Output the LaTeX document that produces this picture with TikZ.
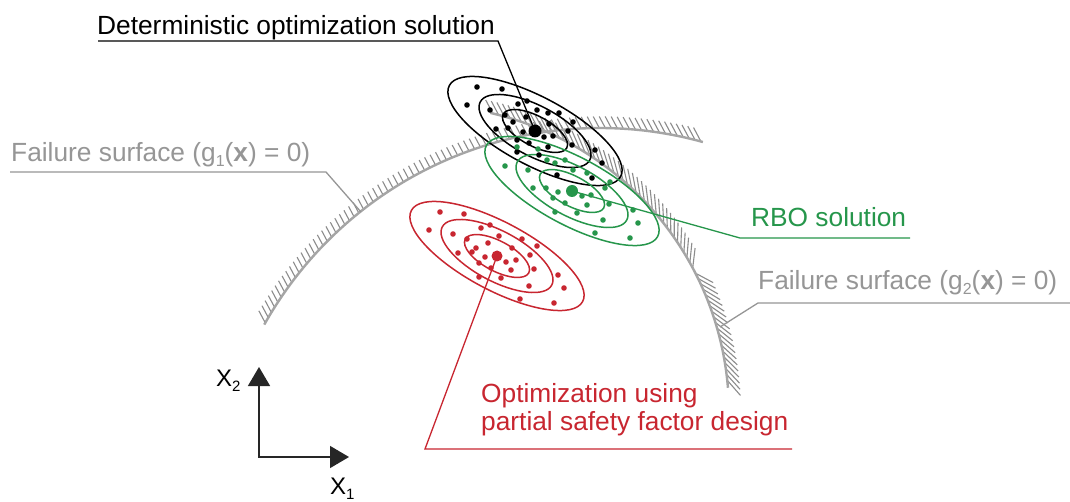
\documentclass[tikz,border=0pt]{standalone}
\usepackage{fontspec}
\setmainfont{Liberation Sans}
\usetikzlibrary{arrows.meta}
\definecolor{rbogreen}{RGB}{38,150,75}
\definecolor{psfred}{RGB}{200,38,48}
\definecolor{surfgray}{RGB}{165,165,165}
\definecolor{hatchgray}{RGB}{140,140,140}
\definecolor{labgray}{RGB}{150,150,150}
\newcommand\subsc[1]{\raisebox{-5pt}{\fontsize{16}{16}\selectfont #1}}
\newcommand\axsub[1]{\raisebox{-5pt}{\fontsize{15}{15}\selectfont #1}}
\begin{document}
\begin{tikzpicture}[x=1pt,y=-1pt,
 lab/.style={font=\fontsize{26.3}{30}\selectfont, anchor=base west, inner sep=0pt},
 axlab/.style={font=\fontsize{24}{28}\selectfont, anchor=base west, inner sep=0pt},
 surf/.style={draw=surfgray, line width=2.4pt},
 hatch/.style={draw=hatchgray, line width=1.1pt},
 ell/.style={line width=1.5pt},
 bigdot/.style={circle, inner sep=0pt, minimum size=13pt},
 leader/.style={line width=1.3pt},
 axisline/.style={line width=1.4pt, draw=black!85, {Triangle[length=19pt,width=22pt]}-{Triangle[length=19pt,width=22pt]}}
]
\useasboundingbox (0,0) rectangle (1070,502);
\fill[white] (0,0) rectangle (1070,502);

% ---------- failure surfaces ----------
\foreach \ang in {209.6,210.5,...,285.2}{
  \pgfmathsetmacro\hr{mod(-118-(\ang)+720,360)-180}
  \pgfmathsetmacro\hr{abs(\hr)>90 ? (\hr>0 ? \hr-180 : \hr+180) : \hr}
  \pgfmathsetmacro\hr{max(-55,min(55,\hr))}
  \pgfmathsetmacro\hl{11.5/cos(\hr)}
  \draw[hatch] ({600+385*cos(\ang)},{513+385*sin(\ang)}) -- ++({\ang+\hr}:\hl);
}
\foreach \ang in {-76.5,-75.4,...,-5}{
  \pgfmathsetmacro\hr{mod(-118-(\ang)+720,360)-180}
  \pgfmathsetmacro\hr{abs(\hr)>90 ? (\hr>0 ? \hr-180 : \hr+180) : \hr}
  \pgfmathsetmacro\hr{max(-55,min(55,\hr))}
  \pgfmathsetmacro\hl{11.5/cos(\hr)}
  \draw[hatch] ({421+308*cos(\ang)},{413+308*sin(\ang)}) -- ++({\ang+\hr}:\hl);
}
\draw[surf] plot[domain=209.3:285.5, samples=90] ({600+385*cos(\x)},{513+385*sin(\x)});
\draw[surf] plot[domain=-77:-4.7, samples=80] ({421+308*cos(\x)},{413+308*sin(\x)});

% ---------- clusters ----------
\foreach \cx/\cy/\col in {535/131/black, 572/191/rbogreen, 497/256/psfred}{
  \draw[ell, \col, rotate around={-28:(\cx,\cy)}] (\cx,\cy) ellipse[x radius=97pt, y radius=34pt];
  \draw[ell, \col, rotate around={-28:(\cx,\cy)}] (\cx,\cy) ellipse[x radius=62pt, y radius=25pt];
  \draw[ell, \col, rotate around={-28:(\cx,\cy)}] (\cx,\cy) ellipse[x radius=36pt, y radius=15pt];
}
\foreach \p in {(477,87),(502,89),(467,105),(490,110),(518,104),(527,101),(537,110),(505,115),(513,122),(526,117),(548,113),(559,113),(573,122),(496,129),(508,128),(523,132),(517,140),(529,143),(544,137),(553,136),(549,124),(568,131),(572,145),(595,150),(602,163),(539,155),(557,175),(592,178),(517,152),(548,147)}
  \fill[black] \p circle[radius=2.8pt];
\foreach \p in {(505,166),(517,147),(528,170),(533,188),(538,149),(547,160),(555,163),(565,160),(573,170),(546,188),(553,198),(558,192),(565,203),(577,213),(582,196),(587,205),(591,195),(605,188),(610,182),(609,204),(603,220),(555,212),(595,233),(630,238),(633,210),(638,223),(587,173)}
  \fill[rbogreen] \p circle[radius=2.8pt];
\foreach \p in {(440,212),(464,214),(429,230),(453,234),(481,228),(490,225),(499,236),(467,239),(488,243),(476,248),(472,252),(458,253),(522,239),(537,246),(512,248),(485,257),(479,263),(491,268),(506,262),(516,260),(511,270),(530,255),(534,269),(479,277),(501,278),(558,275),(564,288),(529,286),(520,299),(554,303)}
  \fill[psfred] \p circle[radius=2.8pt];

\node[bigdot, fill=black] (bdot) at (535,131) {};
\node[bigdot, fill=rbogreen, minimum size=12pt] (gdot) at (572,191) {};
\node[bigdot, fill=psfred, minimum size=11pt] (rdot) at (497,256) {};

% ---------- labels ----------
\node[lab, text=black] (detlab) at (97,35) {Deterministic optimization solution};
\node[lab, text=labgray] (g1lab) at (11,162) {Failure surface (g\subsc{1}(\textbf{x}) = 0)};
\node[lab, text=rbogreen] (rbolab) at (751,227) {RBO solution};
\node[lab, text=labgray] (g2lab) at (758,290) {Failure surface (g\subsc{2}(\textbf{x}) = 0)};
\node[lab, text=psfred] (psf1) at (481,402) {Optimization using};
\node[lab, text=psfred] (psf2) at (481,430) {partial safety factor design};

% ---------- leaders ----------
\coordinate (detA) at (98,41);
\coordinate (detB) at (498,41);
\draw[leader, black] (detA) -- (detB) -- (bdot.center);

\coordinate (g1A) at (10,172);
\coordinate (g1B) at (326,172);
\coordinate (g1C) at (361,212);
\draw[leader, labgray] (g1A) -- (g1B) -- (g1C);

\coordinate (rboA) at (910,238);
\coordinate (rboB) at (740,238);
\draw[leader, rbogreen] (rboA) -- (rboB) -- (gdot.center);

\coordinate (g2A) at (1070,303);
\coordinate (g2B) at (758,303);
\coordinate (g2C) at (720,327);
\draw[leader, labgray] (g2A) -- (g2B) -- (g2C);

\coordinate (psfA) at (792,449);
\coordinate (psfB) at (425,449);
\draw[leader, psfred] (psfA) -- (psfB) -- (rdot.center);

% ---------- axes ----------
\coordinate (axO) at (259,457);
\coordinate (axX) at (349,457);
\coordinate (axY) at (259,367);
\draw[axisline] (axY) -- (axO) -- (axX);
\node[axlab] (x2lab) at (216,386) {X\axsub{2}};
\node[axlab] (x1lab) at (330,494) {X\axsub{1}};
\end{tikzpicture}
\end{document}
